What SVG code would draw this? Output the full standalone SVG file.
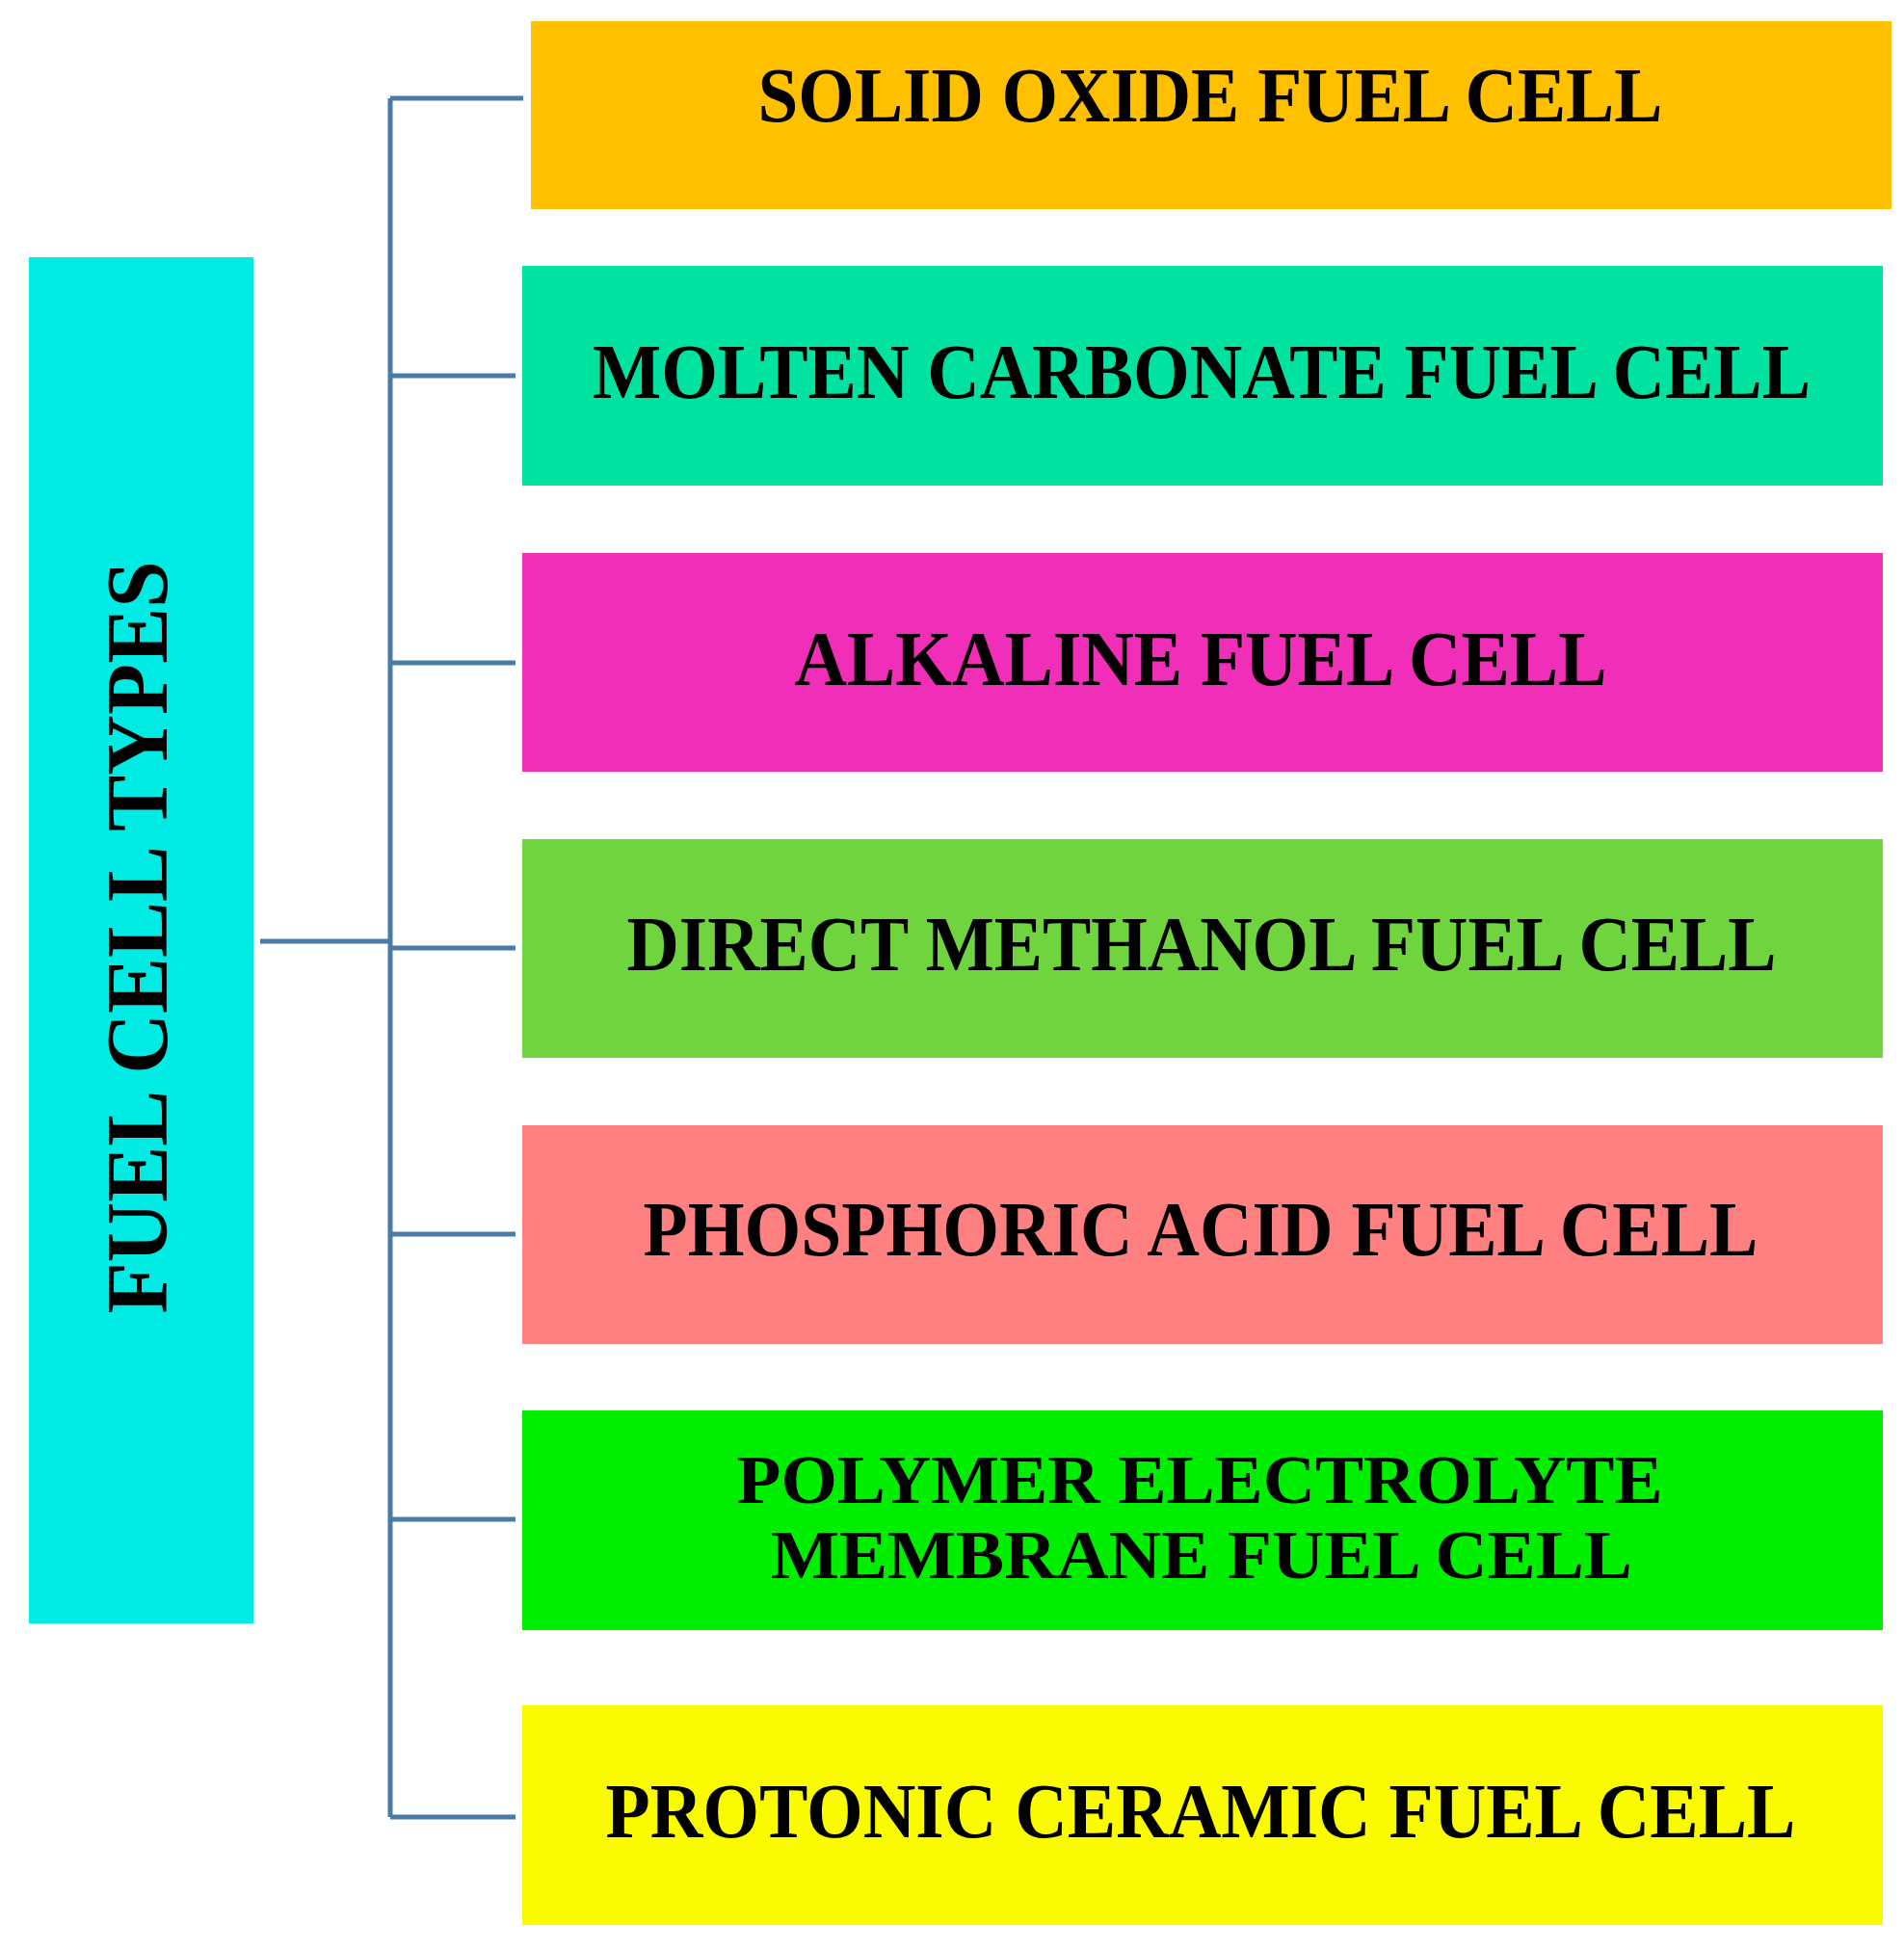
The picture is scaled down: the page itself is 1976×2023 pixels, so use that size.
<svg xmlns="http://www.w3.org/2000/svg" width="1976" height="2023" viewBox="0 0 1976 2023">
<style>
.lbl{font-family:"Liberation Serif","Times New Roman",serif;font-weight:bold;font-size:80px;fill:#000;text-anchor:middle}
.two{font-size:72px}
.conn{stroke:#4a7aa6;stroke-width:5;fill:none}
</style>
<rect width="1976" height="2023" fill="#fff"/>
<g id="connectors">
<path class="conn" d="M270 977 H405 M405 102 V1886 M405 102 H543 M405 390 H535 M405 688 H535 M405 984 H535 M405 1281 H535 M405 1577 H535 M405 1886 H535"/>
</g>
<g id="fuel-cell-types">
<rect x="30" y="267" width="233" height="1418" fill="#00EBE4"/>
<text class="lbl" style="font-size:92px" transform="translate(173,973) rotate(-90)" x="0" y="0" textLength="781" lengthAdjust="spacingAndGlyphs">FUEL CELL TYPES</text>
</g>
<g id="solid-oxide">
<rect x="551" y="22" width="1412" height="195" fill="#FFC000"/>
<text class="lbl" x="1256" y="126" textLength="939" lengthAdjust="spacingAndGlyphs">SOLID OXIDE FUEL CELL</text>
</g>
<g id="molten-carbonate">
<rect x="542" y="276" width="1412" height="228" fill="#00E29F"/>
<text class="lbl" x="1247" y="413" textLength="1264" lengthAdjust="spacingAndGlyphs">MOLTEN CARBONATE FUEL CELL</text>
</g>
<g id="alkaline">
<rect x="542" y="574" width="1412" height="227" fill="#F02EB8"/>
<text class="lbl" x="1246" y="711" textLength="843" lengthAdjust="spacingAndGlyphs">ALKALINE FUEL CELL</text>
</g>
<g id="direct-methanol">
<rect x="542" y="871" width="1412" height="227" fill="#70D43F"/>
<text class="lbl" x="1247" y="1007" textLength="1193" lengthAdjust="spacingAndGlyphs">DIRECT METHANOL FUEL CELL</text>
</g>
<g id="phosphoric-acid">
<rect x="542" y="1168" width="1412" height="227" fill="#FF8080"/>
<text class="lbl" x="1246" y="1303" textLength="1157" lengthAdjust="spacingAndGlyphs">PHOSPHORIC ACID FUEL CELL</text>
</g>
<g id="polymer-electrolyte">
<rect x="542" y="1464" width="1412" height="228" fill="#00EE00"/>
<text class="lbl two" x="1245" y="1560" textLength="961" lengthAdjust="spacingAndGlyphs">POLYMER ELECTROLYTE</text>
<text class="lbl two" x="1247" y="1638" textLength="894" lengthAdjust="spacingAndGlyphs">MEMBRANE FUEL CELL</text>
</g>
<g id="protonic-ceramic">
<rect x="542" y="1770" width="1412" height="228" fill="#FAFA00"/>
<text class="lbl" x="1246" y="1907" textLength="1235" lengthAdjust="spacingAndGlyphs">PROTONIC CERAMIC FUEL CELL</text>
</g>
</svg>
